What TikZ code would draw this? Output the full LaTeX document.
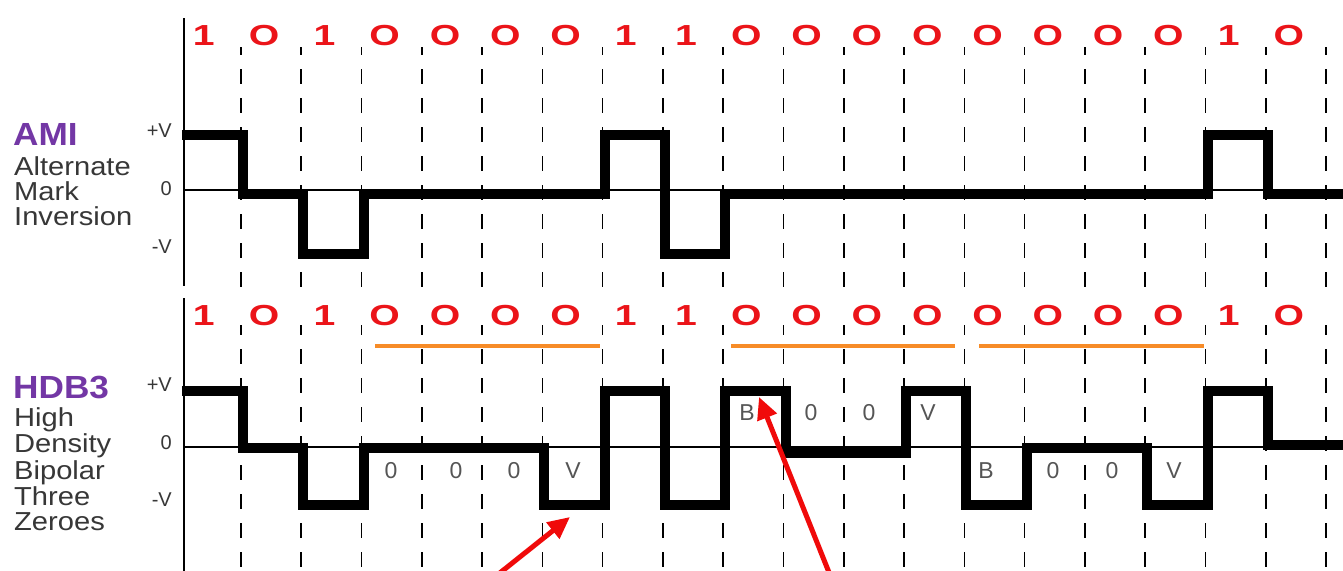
\documentclass[tikz,border=0pt]{standalone}
\usepackage{fontspec}
\setmainfont{Liberation Sans}
\usepackage{graphicx}
\usetikzlibrary{arrows.meta}
\definecolor{bitred}{RGB}{235,20,25}
\definecolor{hbar}{RGB}{247,140,40}
\definecolor{ttl}{RGB}{115,55,165}
\definecolor{lbl}{RGB}{55,55,55}
\definecolor{mk}{RGB}{85,85,85}
\definecolor{arr}{RGB}{240,10,10}
\begin{document}
\begin{tikzpicture}[x=1pt,y=-1pt,
  bit/.style={font=\fontsize{29}{29}\selectfont\bfseries, text=bitred, anchor=base, inner sep=0pt},
  ttlnode/.style={font=\fontsize{32}{32}\selectfont\bfseries, text=ttl, anchor=base west, inner sep=0pt},
  subnode/.style={font=\fontsize{26}{26}\selectfont, text=lbl, anchor=base west, inner sep=0pt},
  lev/.style={font=\fontsize{20}{20}\selectfont, text=lbl, anchor=east, inner sep=0pt},
  bitmark/.style={font=\fontsize{23}{23}\selectfont, text=mk, anchor=center, inner sep=0pt},
  dsh/.style={line width=1.6pt, dash pattern=on 15pt off 14pt},
  axisline/.style={line width=2pt},
  zeroline/.style={line width=1.2pt},
  wave/.style={line width=10pt, line join=miter},
  obar/.style={line width=4.5pt, draw=hbar},
  redarrow/.style={draw=arr, line width=5pt, -{Triangle[length=22pt,width=20pt]}}
]
\clip (0,0) rectangle (1343,570);
\fill[white] (0,0) rectangle (1343,570);

% dashed bit boundaries
\foreach \k in {0,...,18} {
  \draw[dsh, dash phase=7pt] ({241+60.28*\k},47) -- ({241+60.28*\k},288);
  \draw[dsh, dash phase=5pt] ({241+60.28*\k},325) -- ({241+60.28*\k},572);
}

% axes and zero lines
\draw[axisline] (184,18) -- (184,286);
\draw[axisline] (184,298) -- (184,572);
\draw[zeroline] (184,190) -- (1343,190);
\draw[zeroline] (184,447) -- (1343,447);

% bits
\foreach \b [count=\k from 0] in {1,O,1,O,O,O,O,1,1,O,O,O,O,O,O,O,O,1,O} {
  \node[bit] (ta\k) at ({203.86+60.28*\k},45) {\scalebox{1.35}[1]{\b}};
  \node[bit] (tb\k) at ({203.86+60.28*\k},325) {\scalebox{1.35}[1]{\b}};
}

% titles
\node[ttlnode] (ami) at (13,145) {\scalebox{1.1}[1]{AMI}};
\node[subnode] (ami1) at (14,175) {\scalebox{1.12}[1]{Alternate}};
\node[subnode] (ami2) at (14,200) {\scalebox{1.12}[1]{Mark}};
\node[subnode] (ami3) at (14,225) {\scalebox{1.12}[1]{Inversion}};
\node[ttlnode] (hdb) at (13,398) {\scalebox{1.1}[1]{HDB3}};
\node[subnode] (hdb1) at (14,426) {\scalebox{1.12}[1]{High}};
\node[subnode] (hdb2) at (14,452) {\scalebox{1.12}[1]{Density}};
\node[subnode] (hdb3) at (14,479) {\scalebox{1.12}[1]{Bipolar}};
\node[subnode] (hdb4) at (14,505) {\scalebox{1.12}[1]{Three}};
\node[subnode] (hdb5) at (14,530) {\scalebox{1.12}[1]{Zeroes}};

% level labels
\node[lev] (ap) at (172,131) {+V};
\node[lev] (az) at (172,189) {0};
\node[lev] (an) at (172,247) {-V};
\node[lev] (hp) at (172,385) {+V};
\node[lev] (hz) at (172,443) {0};
\node[lev] (hn) at (172,500) {-V};

% AMI waveform
\draw[wave] (182,135) -- (243,135) -- (243,194) -- (303.3,194) -- (303.3,254) -- (363.6,254) -- (363.6,194)
  -- (604.7,194) -- (604.7,135) -- (665,135) -- (665,254) -- (725.2,254) -- (725.2,194)
  -- (1207.5,194) -- (1207.5,135) -- (1267.8,135) -- (1267.8,194) -- (1345,194);

% HDB3 waveform
\draw[wave] (182,391) -- (243,391) -- (243,448) -- (303.3,448) -- (303.3,505) -- (363.6,505) -- (363.6,448)
  -- (544.4,448) -- (544.4,505) -- (604.7,505) -- (604.7,391) -- (665,391) -- (665,505) -- (725.2,505)
  -- (725.2,391) -- (785.5,391) -- (785.5,453) -- (906.1,453) -- (906.1,391) -- (966.4,391) -- (966.4,505)
  -- (1026.6,505) -- (1026.6,448) -- (1147.2,448) -- (1147.2,505) -- (1207.5,505) -- (1207.5,391)
  -- (1267.8,391) -- (1267.8,445) -- (1345,445);

% orange bars
\draw[obar] (375,346) -- (600,346);
\draw[obar] (731,346) -- (955,346);
\draw[obar] (979,346) -- (1204,346);

% HDB3 marks
\node[bitmark] (m3) at (391,471) {0};
\node[bitmark] (m4) at (456,471) {0};
\node[bitmark] (m5) at (514,471) {0};
\node[bitmark] (m6) at (573,471) {V};
\node[bitmark] (m9) at (747,413) {B};
\node[bitmark] (m10) at (811,413) {0};
\node[bitmark] (m11) at (869,413) {0};
\node[bitmark] (m12) at (928,413) {V};
\node[bitmark] (m13) at (986,471) {B};
\node[bitmark] (m14) at (1053,471) {0};
\node[bitmark] (m15) at (1112,471) {0};
\node[bitmark] (m16) at (1174,471) {V};

% red arrows
\coordinate (a1s) at (491,580);
\coordinate (a1e) at (570,517);
\coordinate (a2s) at (832,580);
\coordinate (a2e) at (759,397);
\draw[redarrow] (a1s) -- (a1e);
\draw[redarrow] (a2s) -- (a2e);
\end{tikzpicture}
\end{document}
